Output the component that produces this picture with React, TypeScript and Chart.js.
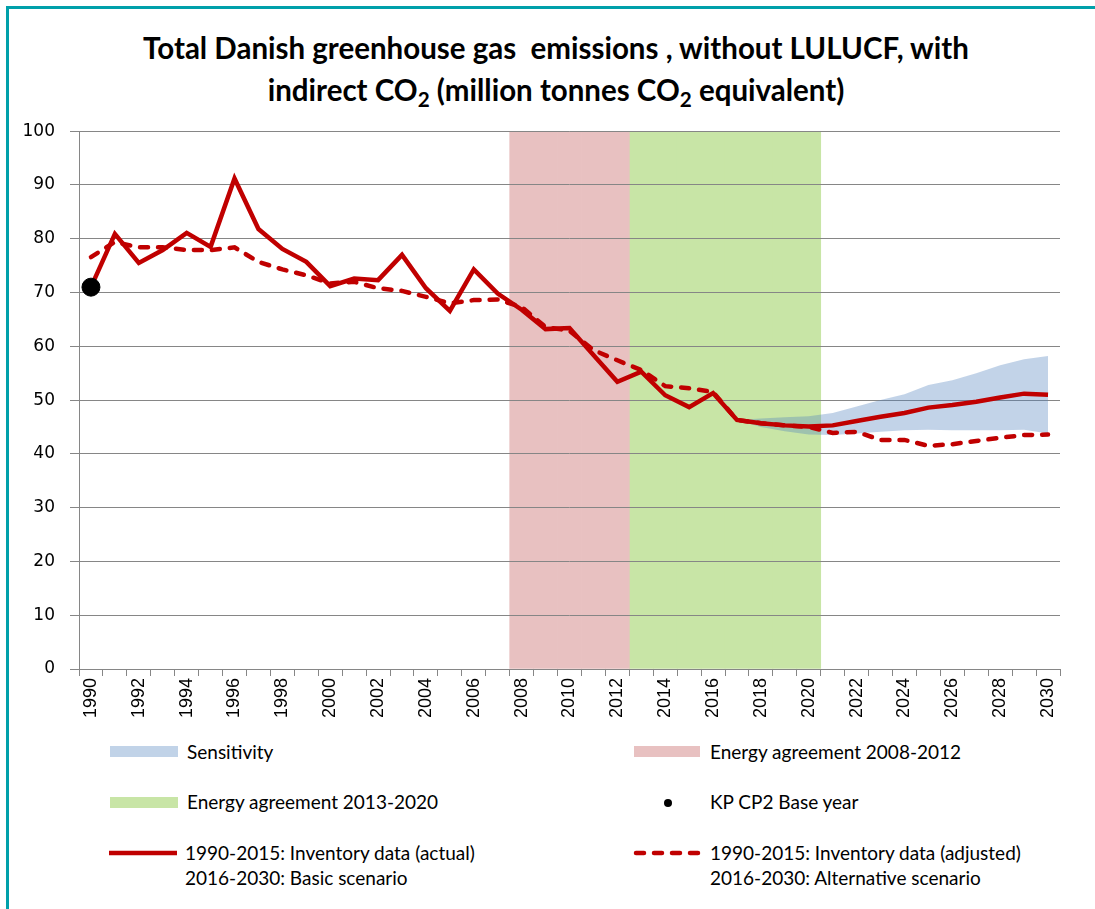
import React, { useEffect, useRef } from "react";
import { Chart, registerables } from "chart.js";

Chart.register(...registerables);

const years = [
  "1990", "1991", "1992", "1993", "1994", "1995", "1996", "1997", "1998", "1999",
  "2000", "2001", "2002", "2003", "2004", "2005", "2006", "2007", "2008", "2009",
  "2010", "2011", "2012", "2013", "2014", "2015", "2016", "2017", "2018", "2019",
  "2020", "2021", "2022", "2023", "2024", "2025", "2026", "2027", "2028", "2029", "2030",
];

// 1990-2015: Inventory data (actual) / 2016-2030: Basic scenario
const actualBasic = [
  71.0, 80.9, 75.5, 77.9, 81.1, 78.5, 91.2, 81.8, 78.1, 75.7,
  71.2, 72.6, 72.3, 77.0, 70.8, 66.6, 74.3, 69.8, 66.8, 63.2,
  63.4, 58.4, 53.4, 55.3, 50.9, 48.7, 51.3, 46.3, 45.7, 45.3,
  45.1, 45.3, 46.1, 46.9, 47.6, 48.6, 49.1, 49.7, 50.5, 51.2, 51.0,
];

// 1990-2015: Inventory data (adjusted) / 2016-2030: Alternative scenario
const adjustedAlternative = [
  76.6, 79.4, 78.4, 78.4, 77.9, 77.9, 78.4, 75.7, 74.3, 73.2,
  71.7, 72.0, 70.8, 70.3, 69.2, 68.0, 68.6, 68.7, 67.3, 63.6,
  62.9, 59.3, 57.4, 55.6, 52.6, 52.2, 51.5, 46.3, 45.7, 45.3,
  45.0, 43.9, 44.1, 42.6, 42.6, 41.5, 41.8, 42.4, 43.0, 43.5, 43.6,
];

const sensitivityYears = [
  "2017", "2018", "2019", "2020", "2021", "2022", "2023",
  "2024", "2025", "2026", "2027", "2028", "2029", "2030",
];
const sensitivityUpper = [46.3, 46.6, 46.8, 47.0, 47.6, 48.8, 50.0, 51.1, 52.8, 53.7, 55.0, 56.5, 57.6, 58.2];
const sensitivityLower = [46.3, 45.0, 44.2, 43.6, 43.5, 43.8, 44.1, 44.4, 44.5, 44.4, 44.4, 44.4, 44.5, 43.8];

const agreement2008Years = ["2008", "2009", "2010", "2011", "2012"];
const agreement2013Years = ["2013", "2014", "2015", "2016", "2017", "2018", "2019", "2020"];
const agreementHeight = 100;

const baseYear = "1990";
const baseYearValue = 71.0;

const labeledYears = [
  "1990", "1992", "1994", "1996", "1998", "2000", "2002", "2004", "2006", "2008", "2010",
  "2012", "2014", "2016", "2018", "2020", "2022", "2024", "2026", "2028", "2030",
];

const RED = "#C00000";
const GRID = "#868686";
const PINK = "rgb(232,193,193)";
const GREEN = "rgb(200,229,166)";
const BAND = "rgba(79,129,189,0.35)";

function spanData(span: string[], value: number) {
  return years.map((y) => (span.includes(y) ? value : null));
}
function seriesFor(keys: string[], values: number[]) {
  return years.map((y) => {
    const i = keys.indexOf(y);
    return i >= 0 ? values[i] : null;
  });
}

// Re-draw horizontal grid lines over the shaded agreement bars (as in the original)
const gridOverBars = {
  id: "gridOverBars",
  afterDatasetDraw(chart: any, args: any) {
    if (args.meta.type !== "bar") return;
    const { ctx, chartArea, scales } = chart;
    const y = scales.y;
    ctx.save();
    ctx.strokeStyle = GRID;
    ctx.lineWidth = 1;
    ctx.beginPath();
    for (const t of y.ticks) {
      const p = Math.round(y.getPixelForValue(t.value) - 0.5) + 0.5;
      ctx.moveTo(chartArea.left, p);
      ctx.lineTo(chartArea.right, p);
    }
    ctx.stroke();
    ctx.restore();
  },
};

export default function App() {
  const ref = useRef<HTMLCanvasElement | null>(null);

  useEffect(() => {
    if (!ref.current) return;
    const chart = new Chart(ref.current, {
      type: "bar",
      data: {
        labels: years,
        datasets: [
          {
            type: "line",
            label: "KP CP2 Base year",
            data: seriesFor([baseYear], [baseYearValue]),
            showLine: false,
            pointRadius: 9,
            pointBackgroundColor: "#000",
            pointBorderColor: "#000",
            order: 0,
          } as any,
          {
            type: "line",
            label: "1990-2015: Inventory data (actual) 2016-2030: Basic scenario",
            data: actualBasic,
            borderColor: RED,
            borderWidth: 4.5,
            pointRadius: 0,
            tension: 0,
            fill: false,
            order: 1,
          },
          {
            type: "line",
            label: "1990-2015: Inventory data (adjusted) 2016-2030: Alternative scenario",
            data: adjustedAlternative,
            borderColor: RED,
            borderWidth: 4.5,
            borderDash: [8, 10],
            borderCapStyle: "round",
            pointRadius: 0,
            tension: 0,
            fill: false,
            order: 2,
          },
          {
            type: "line",
            label: "Sensitivity",
            data: seriesFor(sensitivityYears, sensitivityUpper),
            borderWidth: 0,
            borderColor: "rgba(0,0,0,0)",
            backgroundColor: BAND,
            pointRadius: 0,
            tension: 0,
            fill: "+1",
            order: 5,
          },
          {
            type: "line",
            label: "Sensitivity lower",
            data: seriesFor(sensitivityYears, sensitivityLower),
            borderWidth: 0,
            borderColor: "rgba(0,0,0,0)",
            pointRadius: 0,
            tension: 0,
            fill: false,
            order: 6,
          },
          {
            type: "bar",
            label: "Energy agreement 2008-2012",
            data: spanData(agreement2008Years, agreementHeight),
            backgroundColor: PINK,
            borderWidth: 0,
            barPercentage: 1,
            categoryPercentage: 1,
            grouped: false,
            order: 10,
          } as any,
          {
            type: "bar",
            label: "Energy agreement 2013-2020",
            data: spanData(agreement2013Years, agreementHeight),
            backgroundColor: GREEN,
            borderWidth: 0,
            barPercentage: 1,
            categoryPercentage: 1,
            grouped: false,
            order: 11,
          } as any,
        ],
      },
      options: {
        animation: false,
        responsive: false,
        devicePixelRatio: 1,
        layout: { padding: { top: 12, right: 35, left: 0, bottom: 0 } },
        plugins: {
          legend: { display: false },
          title: { display: false },
          tooltip: { enabled: false },
        },
        scales: {
          x: {
            type: "category",
            offset: true,
            grid: {
              offset: true,
              drawOnChartArea: false,
              drawTicks: true,
              tickLength: 7,
              color: GRID,
            },
            border: { display: true, color: GRID },
            ticks: {
              autoSkip: false,
              maxRotation: 90,
              minRotation: 90,
              padding: 2,
              color: "#000",
              font: { family: "'Liberation Sans', Arial, sans-serif", size: 18 },
              callback: function (this: any, value: any) {
                const lab = this.getLabelForValue(value);
                return labeledYears.includes(lab) ? lab : "";
              },
            },
            afterFit: (scale: any) => {
              scale.height = 61;
            },
          },
          y: {
            min: 0,
            max: 100,
            ticks: {
              stepSize: 10,
              padding: 15,
              color: "#000",
              font: { family: "'DejaVu Sans', sans-serif", size: 17 },
            },
            grid: { color: GRID, lineWidth: 1, tickLength: 9, drawTicks: true },
            border: { display: true, color: GRID },
            afterFit: (scale: any) => {
              scale.width = 79;
            },
          },
        },
      },
      plugins: [gridOverBars],
    });
    return () => chart.destroy();
  }, []);

  const legendFont: React.CSSProperties = {
    position: "absolute",
    fontFamily: "Lato, 'Open Sans', sans-serif",
    fontSize: 19,
    color: "#000",
    lineHeight: "25px",
    whiteSpace: "nowrap",
  };
  const sub: React.CSSProperties = { fontSize: "0.7em", verticalAlign: "-0.3em", lineHeight: 0 };

  return (
    <div
      style={{
        position: "absolute",
        left: 0,
        top: 0,
        width: 1095,
        height: 909,
        background: "#fff",
        overflow: "hidden",
      }}
    >
      <div
        style={{
          position: "absolute",
          left: 6,
          top: 6,
          width: 1200,
          height: 1000,
          borderLeft: "3px solid #00A0AA",
          borderTop: "3px solid #00A0AA",
        }}
      />
      <div
        style={{
          position: "absolute",
          left: 0,
          top: 27,
          width: 1112,
          textAlign: "center",
          fontFamily: "Lato, 'Open Sans', sans-serif",
          fontWeight: 700,
          fontSize: 29.5,
          lineHeight: "42px",
          color: "#000",
        }}
      >
        <div>Total Danish greenhouse gas&nbsp; emissions , without LULUCF, with</div>
        <div>
          indirect CO<span style={sub}>2</span> (million tonnes CO<span style={sub}>2</span> equivalent)
        </div>
      </div>
      <canvas
        ref={ref}
        width={1095}
        height={624}
        style={{ position: "absolute", left: 0, top: 106, width: 1095, height: 624 }}
      />
      {/* Legend */}
      <div style={{ position: "absolute", left: 110, top: 746, width: 68, height: 11, background: "rgb(193,211,232)" }} />
      <div style={{ ...legendFont, left: 187, top: 739 }}>Sensitivity</div>
      <div style={{ position: "absolute", left: 634, top: 746, width: 66, height: 11, background: PINK }} />
      <div style={{ ...legendFont, left: 710, top: 739 }}>Energy agreement 2008-2012</div>

      <div style={{ position: "absolute", left: 110, top: 797, width: 68, height: 11, background: GREEN }} />
      <div style={{ ...legendFont, left: 187, top: 789 }}>Energy agreement 2013-2020</div>
      <div style={{ position: "absolute", left: 664, top: 799, width: 8, height: 8, borderRadius: 4, background: "#000" }} />
      <div style={{ ...legendFont, left: 710, top: 789 }}>KP CP2 Base year</div>

      <svg style={{ position: "absolute", left: 105, top: 846 }} width={80} height={14}>
        <line x1={4} y1={7} x2={72} y2={7} stroke={RED} strokeWidth={4.5} />
      </svg>
      <div style={{ ...legendFont, left: 185, top: 840 }}>
        1990-2015: Inventory data (actual)
        <br />
        2016-2030: Basic scenario
      </div>
      <svg style={{ position: "absolute", left: 630, top: 846 }} width={80} height={14}>
        <line
          x1={6}
          y1={7}
          x2={72}
          y2={7}
          stroke={RED}
          strokeWidth={4.5}
          strokeDasharray="8 10"
          strokeLinecap="round"
        />
      </svg>
      <div style={{ ...legendFont, left: 710, top: 840 }}>
        1990-2015: Inventory data (adjusted)
        <br />
        2016-2030: Alternative scenario
      </div>
    </div>
  );
}
